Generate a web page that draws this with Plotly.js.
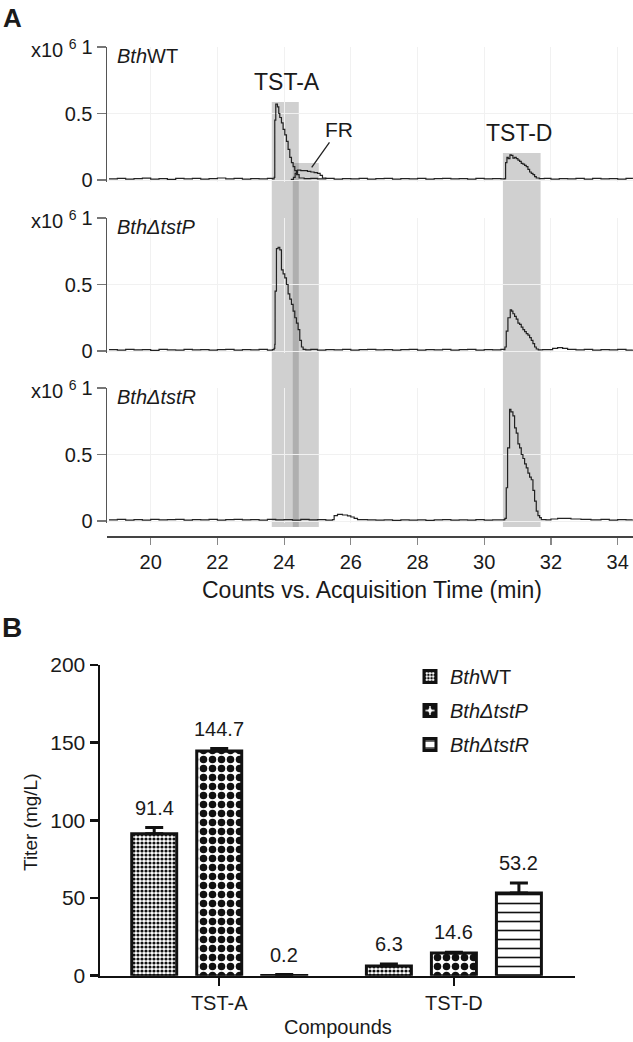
<!DOCTYPE html>
<html><head><meta charset="utf-8">
<script src="https://cdn.plot.ly/plotly-3.0.1.min.js"></script>
<style>html,body{margin:0;padding:0;background:#fff}#chart{width:633px;height:1042px}</style>
</head><body><div id="chart"></div>
<script>
// ---------- Panel A data (intensity, x10^6 counts) ----------
const wtTime = [18.75,19.0,19.25,19.5,19.75,20.0,20.25,20.5,20.75,21.0,21.25,21.5,21.75,22.0,22.25,22.5,22.75,23.0,23.25,23.5,23.65,
  23.70,23.72,23.75,23.80,23.84,23.87,23.92,23.97,24.02,24.07,24.12,24.17,24.22,24.27,24.32,24.37,24.45,
  24.6,24.8,25.0,25.25,25.5,25.75,26.0,26.25,26.5,26.75,27.0,27.25,27.5,27.75,28.0,28.25,28.5,28.75,29.0,29.25,29.5,29.75,30.0,30.25,30.5,
  30.62,30.64,30.68,30.72,30.77,30.81,30.86,30.91,30.96,31.01,31.06,31.11,31.16,31.21,31.26,31.31,31.36,31.41,31.46,31.51,31.56,
  31.65,31.8,32.0,32.25,32.5,32.75,33.0,33.25,33.5,33.75,34.0,34.25,34.45];
const wtSignal = [0.008,0.012,0.006,0.010,0.014,0.007,0.011,0.005,0.012,0.009,0.013,0.006,0.010,0.015,0.008,0.012,0.006,0.011,0.009,0.013,0.008,
  0.02,0.45,0.57,0.55,0.50,0.47,0.43,0.38,0.34,0.29,0.23,0.17,0.13,0.10,0.07,0.04,0.015,
  0.010,0.012,0.008,0.012,0.007,0.011,0.009,0.013,0.006,0.010,0.012,0.007,0.011,0.009,0.013,0.006,0.010,0.012,0.008,0.011,0.007,0.012,0.009,0.011,0.008,
  0.010,0.13,0.17,0.16,0.19,0.185,0.165,0.17,0.16,0.15,0.14,0.125,0.12,0.11,0.10,0.08,0.06,0.05,0.04,0.025,0.015,
  0.010,0.012,0.007,0.011,0.009,0.013,0.006,0.012,0.008,0.011,0.007,0.012,0.009];
const frTime = [24.20,24.28,24.33,24.40,24.50,24.60,24.70,24.80,24.90,25.00,25.08,25.15,25.25];
const frSignal = [0.005,0.02,0.05,0.075,0.07,0.07,0.065,0.06,0.055,0.05,0.035,0.015,0.008];

const tstPTime = [18.75,19.0,19.25,19.5,19.75,20.0,20.25,20.5,20.75,21.0,21.25,21.5,21.75,22.0,22.25,22.5,22.75,23.0,23.25,23.5,23.65,
  23.70,23.72,23.73,23.77,23.82,23.87,23.92,23.97,24.02,24.07,24.12,24.17,24.22,24.27,24.32,24.37,24.42,24.47,24.52,24.57,
  24.65,24.8,25.0,25.25,25.5,25.75,26.0,26.25,26.5,26.75,27.0,27.25,27.5,27.75,28.0,28.25,28.5,28.75,29.0,29.25,29.5,29.75,30.0,30.25,30.5,
  30.60,30.62,30.66,30.71,30.78,30.82,30.86,30.91,30.96,31.01,31.06,31.11,31.16,31.21,31.26,31.31,31.36,31.41,31.46,31.51,31.56,31.62,
  31.75,32.05,32.2,32.35,32.5,32.75,33.0,33.25,33.5,33.75,34.0,34.25,34.45];
const tstPSignal = [0.010,0.006,0.012,0.008,0.011,0.005,0.013,0.009,0.007,0.012,0.008,0.011,0.006,0.010,0.013,0.007,0.011,0.008,0.012,0.006,0.010,
  0.02,0.05,0.45,0.77,0.78,0.76,0.61,0.58,0.55,0.50,0.43,0.39,0.35,0.30,0.25,0.21,0.16,0.08,0.03,0.012,
  0.008,0.012,0.007,0.011,0.009,0.013,0.006,0.010,0.012,0.008,0.011,0.006,0.010,0.013,0.007,0.011,0.008,0.012,0.006,0.010,0.012,0.007,0.011,0.009,0.012,
  0.010,0.03,0.15,0.25,0.31,0.30,0.28,0.26,0.24,0.21,0.20,0.18,0.16,0.145,0.13,0.12,0.10,0.08,0.055,0.03,0.015,0.008,
  0.010,0.020,0.025,0.020,0.012,0.009,0.012,0.007,0.011,0.008,0.012,0.006,0.010];

const tstRTime = [18.75,19.0,19.25,19.5,19.75,20.0,20.25,20.5,20.75,21.0,21.25,21.5,21.75,22.0,22.25,22.5,22.75,23.0,23.25,23.5,23.75,24.0,24.25,24.5,24.75,25.0,25.25,
  25.45,25.50,25.60,25.75,25.90,26.00,26.10,26.20,
  26.5,26.75,27.0,27.25,27.5,27.75,28.0,28.25,28.5,28.75,29.0,29.25,29.5,29.75,30.0,30.25,30.5,
  30.60,30.62,30.66,30.70,30.76,30.80,30.86,30.91,30.96,31.01,31.06,31.11,31.16,31.21,31.26,31.31,31.36,31.41,31.46,31.51,31.56,31.61,31.66,31.71,
  31.85,32.0,32.2,32.4,32.6,32.9,33.2,33.5,33.75,34.0,34.25,34.45];
const tstRSignal = [0.009,0.013,0.007,0.011,0.006,0.012,0.008,0.010,0.013,0.007,0.011,0.009,0.012,0.006,0.010,0.013,0.008,0.011,0.007,0.012,0.009,0.011,0.006,0.012,0.008,0.011,0.007,
  0.010,0.040,0.050,0.045,0.038,0.030,0.020,0.010,
  0.008,0.006,0.009,0.005,0.008,0.006,0.009,0.005,0.008,0.010,0.006,0.009,0.007,0.010,0.006,0.009,0.008,
  0.010,0.02,0.25,0.55,0.84,0.82,0.79,0.70,0.66,0.58,0.55,0.50,0.47,0.43,0.40,0.36,0.33,0.31,0.23,0.15,0.075,0.04,0.025,0.010,
  0.008,0.015,0.020,0.020,0.015,0.012,0.009,0.012,0.007,0.011,0.008,0.010];

const regionNames = ['TST-A', 'FR', 'TST-D'];
const regionStart = [23.63, 24.26, 30.56];
const regionEnd = [24.44, 25.04, 31.69];
const strainLabels = ['<i>Bth</i>WT', '<i>BthΔtstP</i>', '<i>BthΔtstR</i>'];
const timeTicks = [20, 22, 24, 26, 28, 30, 32, 34];
const intensityTicks = [0, 0.5, 1];

// ---------- Panel B data (titer, mg/L) ----------
const compounds = ['TST-A', 'TST-D'];
const titerWT = [91.4, 6.3];
const errWT = [4.0, 1.2];
const titerP = [144.7, 14.6];
const errP = [1.5, 0.5];
const titerR = [0.2, 53.2];
const errR = [0.5, 6.5];
const titerTicks = [0, 50, 100, 150, 200];

// ---------- helpers ----------
const W = 633, H = 1042;
const PX = x => x / W, PY = y => 1 - y / H;
const FONT = '"Liberation Sans", Arial, Helvetica, sans-serif';
const INK = '#1a1a1a';
const chromLine = {color: '#222', width: 1.2, shape: 'hv'};

function chrom(x, y, ya) {
  return {x: x, y: y, xaxis: 'x', yaxis: ya, type: 'scatter', mode: 'lines', line: chromLine,
          showlegend: false, hoverinfo: 'skip'};
}

const barSeries = [
  {name: strainLabels[0], y: titerWT, err: errWT, pattern: {shape: '.', size: 4, solidity: 0.5}},
  {name: strainLabels[1], y: titerP, err: errP, pattern: {shape: '.', size: 9, solidity: 0.55}},
  {name: strainLabels[2], y: titerR, err: errR, pattern: {shape: '-', size: 9, solidity: 0.18}}
];

const data = [
  chrom(wtTime, wtSignal, 'y'),
  chrom(frTime, frSignal, 'y'),
  chrom(tstPTime, tstPSignal, 'y2'),
  chrom(tstRTime, tstRSignal, 'y3')
];
barSeries.forEach((s, i) => {
  data.push({
    type: 'bar', name: s.name, x: compounds, y: s.y, xaxis: 'x2', yaxis: 'y4',
    legendgroup: 'g' + i,
    marker: {color: 'white', line: {color: '#111', width: 3},
             pattern: Object.assign({fgcolor: '#111', bgcolor: 'white', fillmode: 'replace'}, s.pattern)},
    error_y: {type: 'data', symmetric: false, array: s.err, arrayminus: s.err.map(() => 0),
              color: '#111', thickness: 3, width: 9},
    hoverinfo: 'skip'
  });
});

// ---------- layout ----------
const yPanels = [[182, 47], [353, 218], [523, 388]];
function yAx(i) {
  return {domain: [PY(yPanels[i][0]), PY(yPanels[i][1])], range: [-0.015, 1], anchor: 'x',
          tickvals: intensityTicks, ticktext: ['0', '0.5', '1'], ticks: 'outside', ticklen: 9,
          tickcolor: '#777', tickwidth: 1.2, showline: true, linecolor: '#555', linewidth: 1.5,
          showgrid: true, gridcolor: '#f1f1f1', zeroline: false,
          tickfont: {size: 20, color: INK, family: FONT}};
}

const shapes = regionNames.map((n, i) => ({
  type: 'rect', xref: 'x', yref: 'paper', x0: regionStart[i], x1: regionEnd[i],
  y0: PY(527), y1: PY([102, 163, 153][i]), fillcolor: 'rgba(100,100,100,0.3)',
  line: {width: 0}, layer: 'below'
}));

const annotations = [
  {text: '<b>A</b>', x: PX(12), y: PY(1), yanchor: 'top', font: {size: 26}},
  {text: '<b>B</b>', x: PX(12), y: PY(627), font: {size: 28}},
  {text: 'TST-A', x: PX(287), y: PY(82), font: {size: 23}},
  {text: 'TST-D', x: PX(519), y: PY(133), font: {size: 23}},
  {text: 'FR', x: PX(311.7), y: PY(167.3), ax: 27, ay: -38, showarrow: true, arrowhead: 0,
   arrowwidth: 1.3, arrowcolor: '#222', standoff: 0, font: {size: 21}},
  {text: 'Counts vs. Acquisition Time (min)', x: PX(372), y: PY(590), font: {size: 23}},
  {text: 'Titer (mg/L)', x: PX(30), y: PY(822), textangle: -90, font: {size: 19}},
  {text: 'Compounds', x: PX(337.5), y: PY(1027), font: {size: 20}}
];
[47, 218, 388].forEach(py => annotations.push(
  {text: 'x10 <sup>6</sup>', x: PX(79), y: PY(py + 2), xanchor: 'right', font: {size: 20}}));
[56, 227, 397].forEach((py, i) => annotations.push(
  {text: strainLabels[i], x: PX(115), y: PY(py), xanchor: 'left', font: {size: 20}}));
barSeries.forEach((s, i) => {
  compounds.forEach((c, j) => {
    annotations.push({text: s.y[j].toFixed(1), xref: 'x2', yref: 'y4', x: c, y: s.y[j] + s.err[j],
                      xshift: (i - 1) * 65, yshift: 20, font: {size: 20}});
  });
});
annotations.forEach(a => {
  if (!a.xref) a.xref = 'paper';
  if (!a.yref) a.yref = 'paper';
  if (a.showarrow === undefined) a.showarrow = false;
  if (!a.xanchor) a.xanchor = 'center';
  if (!a.yanchor) a.yanchor = 'middle';
  a.font = Object.assign({family: FONT, color: INK}, a.font);
});

const layout = {
  width: W, height: H, margin: {l: 0, r: 0, t: 0, b: 0},
  paper_bgcolor: 'white', plot_bgcolor: 'rgba(0,0,0,0)',
  font: {family: FONT, color: INK, size: 20},
  xaxis: {domain: [PX(107), 1], range: [18.69, 34.46], anchor: 'free', position: PY(536),
          tickvals: timeTicks, ticks: 'outside', ticklen: 7, tickcolor: '#888', tickwidth: 1.2,
          showline: true, linecolor: '#444', linewidth: 1.5, showgrid: true, gridcolor: '#f1f1f1',
          zeroline: false, tickfont: {size: 20, color: INK, family: FONT}},
  yaxis: yAx(0), yaxis2: yAx(1), yaxis3: yAx(2),
  xaxis2: {domain: [PX(100), PX(575)], type: 'category', range: [-0.508, 1.516], anchor: 'y4',
           showline: true, linecolor: '#111', linewidth: 2.5, ticks: 'outside', ticklen: 8,
           tickwidth: 2.5, tickcolor: '#111', showgrid: false, zeroline: false,
           tickfont: {size: 20, color: INK, family: FONT}},
  yaxis4: {domain: [PY(975.7), PY(665)], range: [0, 200], anchor: 'x2', tickvals: titerTicks,
           ticks: 'outside', ticklen: 8, tickwidth: 2.5, tickcolor: '#111', showline: true,
           linecolor: '#111', linewidth: 2.5, showgrid: false, zeroline: false,
           tickfont: {size: 21, color: INK, family: FONT}},
  barmode: 'group', bargap: 0.169, bargroupgap: 0.308,
  showlegend: true,
  legend: {x: PX(410), y: PY(657), xanchor: 'left', yanchor: 'top', traceorder: 'grouped',
           tracegroupgap: 5, bgcolor: 'rgba(0,0,0,0)', font: {size: 20, family: FONT, color: INK}},
  shapes: shapes, annotations: annotations
};

Plotly.newPlot('chart', data, layout, {displayModeBar: false, staticPlot: true});
</script></body></html>
